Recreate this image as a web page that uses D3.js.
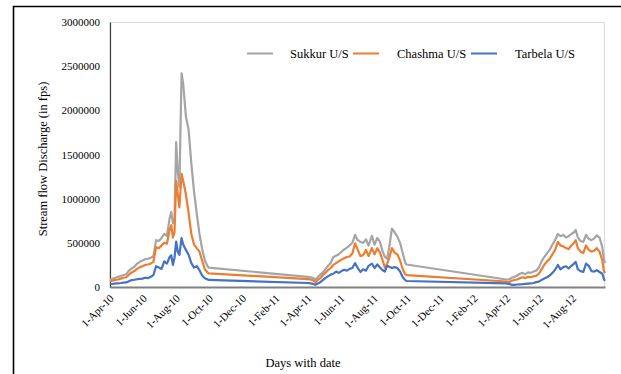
<!DOCTYPE html>
<html>
<head>
<meta charset="utf-8">
<script src="https://cdn.jsdelivr.net/npm/d3@7"></script>
<style>
  body { margin: 0; background: #fff; }
  svg { display: block; }
  text { font-family: "Liberation Serif", "Times New Roman", serif; fill: #000; }
</style>
</head>
<body>
<svg id="chart" width="621" height="374"></svg>
<script>
// Series shown in the legend, in drawing order
const seriesNames = ["Sukkur U/S", "Chashma U/S", "Tarbela U/S"];
const seriesColors = ["#a5a5a5", "#ed7d31", "#4472c4"];

// Each flow season starts on 1 April; readings are indexed by day of season
const seasonStarts = ["2010-04-01", "2011-04-01", "2012-04-01"];

const days2010 = [0,5,10,15,20,25,30,35,40,45,50,55,60,65,70,75,80,85,90,95,100,105,110,113,116,119,122,125,128,132,135,140,145,150,155,160,165,170,175,180,182];
const sukkur2010 = [88000,95000,105000,115000,125000,135000,145000,185000,210000,230000,265000,285000,300000,315000,320000,330000,345000,530000,520000,555000,600000,580000,780000,850000,720000,760000,1640000,1300000,1130000,2420000,2300000,1930000,1780000,1400000,1080000,830000,600000,430000,300000,235000,220000];
const chashma2010 = [68000,72000,80000,85000,95000,105000,110000,140000,165000,180000,205000,225000,235000,250000,255000,265000,285000,450000,440000,470000,500000,490000,650000,700000,560000,620000,1200000,1050000,900000,1280000,1200000,1050000,840000,600000,480000,440000,400000,300000,200000,165000,155000];
const tarbela2010 = [34000,36000,40000,42000,45000,50000,52000,65000,78000,82000,88000,92000,95000,105000,100000,115000,135000,235000,220000,205000,290000,265000,340000,360000,250000,330000,515000,400000,365000,555000,480000,420000,365000,270000,220000,235000,190000,130000,100000,85000,80000];

const days2011 = [0,5,10,14,18,23,28,32,37,42,47,52,57,62,67,72,77,82,87,92,97,102,107,112,118,123,128,133,138,142,146,150,155,160,165,170,175,180,182];
const sukkur2011 = [115000,110000,100000,85000,110000,140000,170000,200000,240000,270000,340000,355000,370000,400000,425000,445000,470000,500000,590000,530000,510000,500000,540000,470000,580000,480000,555000,510000,400000,340000,320000,450000,660000,620000,570000,500000,380000,270000,255000];
const chashma2011 = [90000,85000,75000,55000,80000,100000,135000,160000,190000,215000,250000,270000,290000,310000,325000,340000,345000,380000,495000,420000,350000,360000,420000,350000,440000,370000,440000,390000,300000,220000,260000,330000,440000,390000,370000,300000,200000,140000,135000];
const tarbela2011 = [45000,42000,35000,25000,40000,55000,80000,100000,120000,140000,150000,175000,160000,180000,195000,185000,205000,215000,270000,215000,170000,200000,185000,240000,265000,215000,255000,220000,190000,175000,240000,230000,215000,225000,215000,175000,110000,75000,68000];

const days2012 = [0,5,10,15,20,25,30,35,40,45,50,55,60,65,70,75,80,85,90,95,100,105,110,115,120,125,128,132,137,142,147,152,157,162,167,172,177,180,182];
const sukkur2012 = [85000,85000,105000,115000,130000,150000,160000,145000,165000,160000,175000,185000,220000,290000,340000,380000,420000,480000,530000,600000,575000,590000,560000,575000,600000,620000,645000,560000,520000,510000,590000,545000,530000,550000,585000,560000,450000,320000,270000];
const chashma2012 = [62000,55000,70000,80000,85000,100000,110000,100000,115000,110000,120000,125000,150000,200000,250000,290000,320000,370000,420000,510000,470000,460000,440000,430000,470000,500000,530000,440000,400000,385000,470000,420000,400000,410000,440000,400000,300000,180000,155000];
const tarbela2012 = [40000,35000,25000,25000,28000,30000,32000,35000,38000,40000,45000,55000,60000,80000,95000,110000,130000,160000,195000,250000,200000,225000,235000,210000,240000,265000,285000,200000,180000,170000,265000,240000,180000,175000,190000,170000,150000,90000,70000];

const yTicks = [0, 500000, 1000000, 1500000, 2000000, 2500000, 3000000];
const xTickStart = "2010-04-01";
const xTickEveryMonths = 2;
const axisEnd = "2012-09-30";

const yTitle = "Stream flow  Discharge (in fps)";
const xTitle = "Days with date";

const serif = '"Liberation Serif", "Times New Roman", serif';

// ---- assemble the series ----
const parse = d3.utcParse("%Y-%m-%d");
const seasons = [
  { start: seasonStarts[0], days: days2010, values: [sukkur2010, chashma2010, tarbela2010] },
  { start: seasonStarts[1], days: days2011, values: [sukkur2011, chashma2011, tarbela2011] },
  { start: seasonStarts[2], days: days2012, values: [sukkur2012, chashma2012, tarbela2012] }
];
const series = seriesNames.map((name, i) => ({
  name,
  color: seriesColors[i],
  points: seasons.flatMap(s => s.days.map((d, k) => ({
    date: d3.utcDay.offset(parse(s.start), d),
    value: s.values[i][k]
  })))
}));

// ---- layout ----
const svg = d3.select("#chart");
const plot = { left: 110, right: 605, top: 22, bottom: 287 };

const x = d3.scaleUtc()
  .domain([parse(xTickStart), parse(axisEnd)])
  .range([plot.left, plot.right]);
const y = d3.scaleLinear()
  .domain([0, 3000000])
  .range([plot.bottom, plot.top]);

// outer frame (top and left edges)
svg.append("path")
  .attr("d", "M13.5,374 L13.5,6.5 L621,6.5")
  .attr("fill", "none")
  .attr("stroke", "#000")
  .attr("stroke-width", 1.6);

// plot area border
svg.append("rect")
  .attr("x", plot.left).attr("y", plot.top + 0.5)
  .attr("width", plot.right - plot.left - 0.5)
  .attr("height", plot.bottom - plot.top)
  .attr("fill", "none")
  .attr("stroke", "#d9d9d9")
  .attr("stroke-width", 1);

// y axis
const yAxis = svg.append("g")
  .attr("transform", `translate(${plot.left},0)`)
  .call(d3.axisLeft(y).tickValues(yTicks).tickSize(0).tickPadding(10).tickFormat(d3.format("d")));
yAxis.attr("font-family", null);
yAxis.select(".domain").attr("stroke", "#404040").attr("stroke-width", 1.2);
yAxis.selectAll("text").attr("font-size", 11).attr("fill", "#000").style("font-family", serif);

// x axis: a label every second month, counted from 1 April 2010
const xTickValues = d3.utcMonth.range(parse(xTickStart), d3.utcDay.offset(parse(axisEnd), 1), xTickEveryMonths);
const xAxis = svg.append("g")
  .attr("transform", `translate(0,${plot.bottom})`)
  .call(d3.axisBottom(x).tickValues(xTickValues).tickSize(0).tickFormat(d3.utcFormat("%-d-%b-%y")));
xAxis.attr("font-family", null);
xAxis.select(".domain").attr("stroke", "#808080").attr("stroke-width", 1.8);
xAxis.selectAll(".tick text")
  .attr("font-size", 11)
  .attr("fill", "#000")
  .style("font-family", serif)
  .attr("text-anchor", "end")
  .attr("dy", null)
  .attr("y", 0)
  .attr("transform", "translate(4,12) rotate(-45)");

// series lines
const line = d3.line()
  .x(d => x(d.date))
  .y(d => y(d.value));
svg.append("g")
  .selectAll("path")
  .data(series)
  .join("path")
  .attr("d", d => line(d.points))
  .attr("fill", "none")
  .attr("stroke", d => d.color)
  .attr("stroke-width", 2.2)
  .attr("stroke-linejoin", "round");

// axis titles
svg.append("text")
  .attr("transform", "translate(47,159) rotate(-90)")
  .attr("text-anchor", "middle")
  .attr("font-size", 12.5)
  .text(yTitle);
svg.append("text")
  .attr("x", 303).attr("y", 367)
  .attr("text-anchor", "middle")
  .attr("font-size", 12.5)
  .text(xTitle);

// legend
const legendItems = [
  { sym: 247, text: 290 },
  { sym: 353, text: 397 },
  { sym: 471, text: 515 }
];
const legend = svg.append("g");
series.forEach((s, i) => {
  const p = legendItems[i];
  legend.append("line")
    .attr("x1", p.sym).attr("x2", p.sym + 26)
    .attr("y1", 53.5).attr("y2", 53.5)
    .attr("stroke", s.color).attr("stroke-width", 2);
  legend.append("text")
    .attr("x", p.text).attr("y", 57.5)
    .attr("font-size", 12.5)
    .text(s.name);
});
</script>
</body>
</html>
